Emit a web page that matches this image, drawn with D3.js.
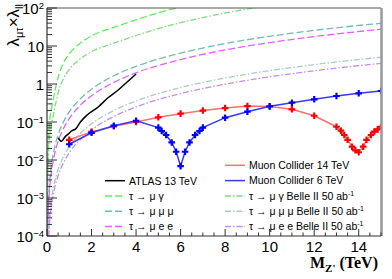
<!DOCTYPE html>
<html>
<head>
<meta charset="utf-8">
<script src="https://cdn.jsdelivr.net/npm/d3@7"></script>
<style>
body { margin: 0; background: #fff; }
svg { display: block; }
text { font-family: "Liberation Sans", Arial, sans-serif; fill: #000; }
</style>
</head>
<body>
<svg id="chart"></svg>
<script>
let width = 392;
let height = 279;
let margin = {"top": 8, "bottom": 43, "left": 47, "right": 11};

// muon collider reach
const mc14Mass = [1, 2, 3, 4, 5, 6, 7, 8, 9, 10, 11, 12, 13, 13.2, 13.35, 13.5, 13.7, 13.85, 14, 14.2, 14.35, 14.55, 14.7, 14.85, 15];
const mc14Val = [0.034, 0.055, 0.077, 0.10, 0.133, 0.166, 0.2, 0.233, 0.262, 0.256, 0.216, 0.146, 0.075, 0.059, 0.0455, 0.034, 0.0224, 0.018, 0.016, 0.0224, 0.034, 0.0455, 0.056, 0.064, 0.075];
const mc6Mass = [1, 2, 3, 4, 5, 5.15, 5.35, 5.6, 5.8, 6, 6.2, 6.4, 6.65, 6.85, 7, 8, 9, 10, 11, 12, 13, 14, 15];
const mc6Val = [0.026, 0.052, 0.080, 0.108, 0.071, 0.058, 0.0455, 0.029, 0.0165, 0.0069, 0.0165, 0.029, 0.0455, 0.058, 0.071, 0.13, 0.187, 0.26, 0.322, 0.395, 0.483, 0.569, 0.655];

// ATLAS 13 TeV
const atlasMass = [0.5, 0.65, 0.8, 0.95, 1.1, 1.3, 1.5, 1.8, 2.3, 2.7, 3.2, 3.5, 4.0];
const atlasVal = [0.038, 0.031, 0.040, 0.048, 0.058, 0.067, 0.10, 0.153, 0.248, 0.415, 0.695, 1.0, 1.83];

// tau LFV limits
const tauMass = [0.02, 0.05, 0.1, 0.2, 0.3, 0.5, 0.75, 1, 1.5, 2, 3, 4, 5, 6, 8, 10, 12, 15];
const muGamma = [0.003, 0.02, 0.08, 0.22, 0.45, 1.5, 3.7, 6.2, 12, 18.5, 31, 49, 75, 106, 190, 300, 430, 680];
const muMuMu = [0.00007, 0.00046, 0.0018, 0.0073, 0.0165, 0.046, 0.103, 0.184, 0.41, 0.73, 1.65, 2.9, 4.55, 6.5, 11.6, 18, 25.8, 39.7];
const muEE = [0.00005, 0.00031, 0.00123, 0.0049, 0.011, 0.031, 0.069, 0.123, 0.277, 0.49, 1.1, 1.97, 3.07, 4.4, 7.9, 12.3, 17.7, 27.6];
const muGammaB2 = [0.001, 0.0077, 0.031, 0.085, 0.17, 0.58, 1.42, 2.4, 4.6, 7.1, 11.9, 18.9, 28.8, 41, 74, 117, 170, 265];
const muMuMuB2 = [0.000009, 0.000056, 0.000225, 0.0009, 0.002, 0.0056, 0.0127, 0.0225, 0.05, 0.09, 0.2, 0.36, 0.56, 0.81, 1.44, 2.25, 3.24, 5.06];
const muEEB2 = [0.000006, 0.000039, 0.000155, 0.00062, 0.0014, 0.0039, 0.0087, 0.0155, 0.035, 0.062, 0.14, 0.248, 0.39, 0.56, 0.99, 1.55, 2.23, 3.5];

const xTicks = [0, 2, 4, 6, 8, 10, 12, 14];
const yTicks = [1e-4, 1e-3, 1e-2, 1e-1, 1, 10, 100];
const yTickLabels = [["10", "-4"], ["10", "-3"], ["10", "-2"], ["10", "-1"], ["1", ""], ["10", ""], ["10", "2"]];

let svg = d3.select("#chart")
    .attr("width", width)
    .attr("height", height);

let x = d3.scaleLinear().domain([0, 15]).range([margin.left, width - margin.right]);
let y = d3.scaleLog().domain([1e-4, 100]).range([height - margin.bottom, margin.top]);

svg.append("clipPath").attr("id", "frame")
    .append("rect")
    .attr("x", x(0)).attr("y", y(100))
    .attr("width", x(15) - x(0)).attr("height", y(1e-4) - y(100));

let plot = svg.append("g").attr("clip-path", "url(#frame)");

function zip(xs, ys) { return xs.map((d, i) => [d, ys[i]]); }

let line = d3.line().x(d => x(d[0])).y(d => y(d[1]));
let smooth = d3.line().x(d => x(d[0])).y(d => y(d[1])).curve(d3.curveMonotoneX);

let tauLines = [
    {data: muGamma, color: "#5cf05c", dash: "7,3"},
    {data: muMuMu, color: "#74b8b8", dash: "7,3"},
    {data: muEE, color: "#e060ff", dash: "7,3"},
    {data: muGammaB2, color: "#80dc80", dash: "6,2,1.5,2"},
    {data: muMuMuB2, color: "#a8cccc", dash: "6,2,1.5,2"},
    {data: muEEB2, color: "#c090f0", dash: "6,2,1.5,2"}
];

tauLines.forEach(function(t) {
    plot.append("path")
        .datum(zip(tauMass, t.data))
        .attr("d", smooth)
        .style("fill", "none")
        .style("stroke", t.color)
        .style("stroke-width", 1.3)
        .style("stroke-dasharray", t.dash);
});

plot.append("path")
    .datum(zip(atlasMass, atlasVal))
    .attr("d", smooth)
    .style("fill", "none")
    .style("stroke", "#000")
    .style("stroke-width", 1.5);

let colliders = [
    {mass: mc14Mass, val: mc14Val, line: "#ff7070", mark: "#ff0000"},
    {mass: mc6Mass, val: mc6Val, line: "#3838ff", mark: "#0000ff"}
];

colliders.forEach(function(c) {
    let pts = zip(c.mass, c.val);
    plot.append("path")
        .datum(pts)
        .attr("d", line)
        .style("fill", "none")
        .style("stroke", c.line)
        .style("stroke-width", 1.5);
    plot.selectAll(null)
        .data(pts)
        .enter().append("path")
        .attr("d", d3.symbol().type(d3.symbolCross).size(24))
        .attr("transform", d => `translate(${x(d[0])},${y(d[1])})`)
        .style("fill", c.mark);
});

// frame
svg.append("line")
    .attr("x1", x(0)).attr("x2", x(15))
    .attr("y1", y(100)).attr("y2", y(100))
    .style("stroke", "#555").style("stroke-width", 1.2);
svg.append("line")
    .attr("x1", x(15) + 0.5).attr("x2", x(15) + 0.5)
    .attr("y1", y(100)).attr("y2", y(1e-4))
    .style("stroke", "#999").style("stroke-width", 2.5);

// y axis
let yAxis = svg.append("g");
yAxis.append("line")
    .attr("x1", x(0)).attr("x2", x(0))
    .attr("y1", y(100)).attr("y2", y(1e-4))
    .style("stroke", "#333").style("stroke-width", 1.2);
let minors = [];
yTicks.slice(0, -1).forEach(function(t) {
    for (let k = 2; k < 10; k++) minors.push(t * k);
});
yAxis.selectAll("line.minor").data(minors)
    .enter().append("line")
    .attr("x1", x(0)).attr("x2", x(0) + 5)
    .attr("y1", d => y(d)).attr("y2", d => y(d))
    .style("stroke", "#333");
yAxis.selectAll("line.major").data(yTicks)
    .enter().append("line")
    .attr("x1", x(0)).attr("x2", x(0) + 10)
    .attr("y1", d => y(d)).attr("y2", d => y(d))
    .style("stroke", "#333");
let yLab = yAxis.selectAll("text").data(yTicks)
    .enter().append("text")
    .attr("x", x(0) - 3)
    .attr("y", d => y(d) + 5.5)
    .style("text-anchor", "end")
    .style("font-size", "15px");
yLab.append("tspan").text((d, i) => yTickLabels[i][0]);
yLab.append("tspan")
    .attr("dy", -5)
    .style("font-size", "9.5px")
    .text((d, i) => yTickLabels[i][1] ? yTickLabels[i][1].replace("-", "\u2212") : "");

// x axis
let xAxis = svg.append("g");
xAxis.append("line")
    .attr("x1", x(0)).attr("x2", x(15))
    .attr("y1", y(1e-4)).attr("y2", y(1e-4))
    .style("stroke", "#333").style("stroke-width", 1.2);
xAxis.selectAll("line.minor").data(d3.range(0, 15.01, 0.5))
    .enter().append("line")
    .attr("x1", d => x(d)).attr("x2", d => x(d))
    .attr("y1", y(1e-4)).attr("y2", d => y(1e-4) - (d % 2 === 0 ? 7 : 3.5))
    .style("stroke", "#333");
xAxis.selectAll("text").data(xTicks)
    .enter().append("text")
    .attr("x", d => x(d))
    .attr("y", y(1e-4) + 16)
    .style("text-anchor", "middle")
    .style("font-size", "15px")
    .text(d => d);

// axis titles
let yTitle = svg.append("text")
    .attr("transform", "translate(19,4) rotate(-90)")
    .style("text-anchor", "end")
    .style("font-size", "17px");
yTitle.append("tspan").text("λ");
yTitle.append("tspan").attr("dy", 4).style("font-size", "11px").text("μτ");
yTitle.append("tspan").attr("dy", -4).text("×λ");
yTitle.append("tspan").attr("dy", 4).style("font-size", "11px").text("ll");

let xTitle = svg.append("text")
    .attr("x", 378).attr("y", 268)
    .style("text-anchor", "end")
    .style("font-family", "'Liberation Serif', 'Times New Roman', serif")
    .style("font-weight", "bold")
    .style("font-size", "16px");
xTitle.append("tspan").text("M");
xTitle.append("tspan").attr("dy", 4).style("font-size", "11px").text("Z'");
xTitle.append("tspan").attr("dy", -4).text(" (TeV)");

// legends
const legendLeft = ["ATLAS 13 TeV", "τ → μ γ", "τ → μ μ μ", "τ → μ e e"];
const legendRight = ["Muon Collider 14 TeV", "Muon Collider 6 TeV", "τ → μ γ Belle II 50 ab", "τ → μ μ μ Belle II 50 ab", "τ → μ e e Belle II 50 ab"];

let leftStyles = [
    {color: "#000", dash: null},
    tauLines[0], tauLines[1], tauLines[2]
];
let rightStyles = [
    {color: colliders[0].line, dash: null},
    {color: colliders[1].line, dash: null},
    tauLines[3], tauLines[4], tauLines[5]
];

function drawLegend(labels, styles, x0, y0, sup) {
    let g = svg.append("g");
    labels.forEach(function(lab, i) {
        let yy = y0 + i * 15.3;
        g.append("line")
            .attr("x1", x0).attr("x2", x0 + 20)
            .attr("y1", yy).attr("y2", yy)
            .style("stroke", styles[i].color)
            .style("stroke-width", 1.5)
            .style("stroke-dasharray", styles[i].dash);
        let t = g.append("text")
            .attr("x", x0 + 24)
            .attr("y", yy + 3.8)
            .style("font-size", "10.5px");
        t.append("tspan").text(lab);
        if (sup && i >= 2) {
            t.append("tspan").attr("dy", -4).style("font-size", "7px").text("-1");
        }
    });
}

drawLegend(legendLeft, leftStyles, 105, 180.7, false);
drawLegend(legendRight, rightStyles, 225, 165.3, true);
</script>
</body>
</html>
